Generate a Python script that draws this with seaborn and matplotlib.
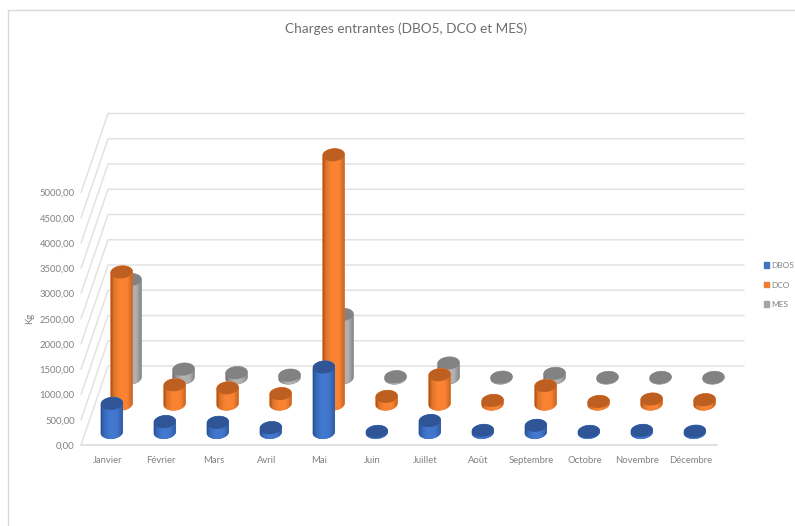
import numpy as np
import pandas as pd
import matplotlib
matplotlib.use("Agg")
import matplotlib.pyplot as plt
import seaborn as sns
from matplotlib.colors import LinearSegmentedColormap
from matplotlib.lines import Line2D
from matplotlib.patches import Patch, Polygon

months = ["Janvier", "Février", "Mars", "Avril", "Mai", "Juin", "Juillet",
          "Août", "Septembre", "Octobre", "Novembre", "Décembre"]
dbo5 = [570, 210, 195, 90, 1290, 15, 230, 35, 135, 15, 35, 20]
dco = [2610, 375, 315, 200, 4930, 145, 575, 65, 360, 45, 93, 80]
mes = [1940, 170, 100, 50, 1250, 20, 290, 10, 85, 5, 5, 5]
y_ticks = [0, 500, 1000, 1500, 2000, 2500, 3000, 3500, 4000, 4500, 5000]

W, H = 795, 526
GRID = "#e2e2e2"
TEXT = "#808080"
# depth of the floor, expressed in months (x) and kg (y)
DEPTH_X = 0.51
DEPTH_Y = 1564
RADIUS_X = 0.205
RADIUS_Y = 125
TILT = 14  # discs lean up to the right, in kg

sns.set_theme(style="white")
plt.rcParams["font.family"] = ["Lato", "DejaVu Sans"]

fig = plt.figure(figsize=(W / 100, H / 100), dpi=100)
# frame of the chart object
fig.add_artist(Line2D([7.5 / W, 7.5 / W, 1], [0, 1 - 9.5 / H, 1 - 9.5 / H], color="#d9d9d9", lw=1.0))

ax = fig.add_axes([81 / W, 1 - 445 / H, 636 / W, 345 / H])
ax.set_xlim(0, 12)
ax.set_ylim(0, 345 / 0.0505)
ax.patch.set_alpha(0)
sns.despine(ax=ax, left=True, bottom=True)

# walls and floor
for t in y_ticks:
    ax.plot([0, DEPTH_X, 12 + DEPTH_X], [t, t + DEPTH_Y, t + DEPTH_Y], color=GRID, lw=1.1, clip_on=False, zorder=1)
ax.plot([0, 12], [0, 0], color=GRID, lw=1.5, clip_on=False, zorder=1)


def disc_points(mid, level, start, stop):
    theta = np.linspace(start, stop, 48)
    return np.column_stack([mid + RADIUS_X * np.cos(theta),
                            level + RADIUS_Y * np.sin(theta) + TILT * np.cos(theta)])


def draw_series(values, name, depth, stops, top_color, z):
    x = np.arange(12) + 0.5 + depth * DEPTH_X
    base = depth * DEPTH_Y
    before = len(ax.patches)
    sns.barplot(x=x, y=values, native_scale=True, width=2 * RADIUS_X, color=stops[2][1], saturation=1,
                bottom=base, linewidth=0, ax=ax, zorder=z, errorbar=None)
    cmap = LinearSegmentedColormap.from_list(name, stops)
    for bar in ax.patches[before:]:
        mid = bar.get_x() + bar.get_width() / 2
        low, high = bar.get_y(), bar.get_y() + bar.get_height()
        outline = np.vstack([disc_points(mid, low, np.pi, 2 * np.pi), disc_points(mid, high, 0, np.pi)])
        shape = Polygon(outline, closed=True, transform=ax.transData, facecolor=stops[2][1],
                        edgecolor=stops[1][1], lw=0.5, zorder=z + 0.1, clip_on=False)
        ax.add_patch(shape)
        im = ax.imshow(np.linspace(0, 1, 64)[None, :], cmap=cmap, aspect="auto", zorder=z + 0.2,
                       extent=(mid - RADIUS_X, mid + RADIUS_X, low - RADIUS_Y - TILT, high + RADIUS_Y + TILT),
                       interpolation="bilinear")
        im.set_clip_path(shape)
        ax.add_patch(Polygon(disc_points(mid, high, 0, 2 * np.pi), closed=True, facecolor=top_color,
                             edgecolor="none", zorder=z + 0.3, clip_on=False))
        bar.set_visible(False)


draw_series(mes, "mes", 0.85, [(0, "#6f6f6f"), (0.12, "#8f8f8f"), (0.4, "#b4b4b4"), (0.75, "#b0b0b0"), (1, "#808080")], "#828282", 2)
draw_series(dco, "dco", 0.52, [(0, "#a9541a"), (0.12, "#dd7229"), (0.4, "#fb8433"), (0.75, "#f98233"), (1, "#c4631f")], "#bd5f20", 3)
draw_series(dbo5, "dbo5", 0.16, [(0, "#2a4f8f"), (0.12, "#3767b5"), (0.4, "#4379d2"), (0.75, "#4075ca"), (1, "#2f5a9f")], "#2f5597", 4)

ax.set_xlim(0, 12)
ax.set_ylim(0, 345 / 0.0505)
ax.set_xticks(np.arange(12) + 0.5)
ax.set_xticklabels(months, fontsize=6.8, color=TEXT)
ax.set_yticks(y_ticks)
ax.set_yticklabels([f"{t:.2f}".replace(".", ",") for t in y_ticks], fontsize=6.8, color=TEXT)
ax.tick_params(axis="both", length=0)
ax.tick_params(axis="x", pad=8)
ax.tick_params(axis="y", pad=4.5)
ax.set_xlabel("")
ax.set_ylabel("Kg", fontsize=6.8, color=TEXT)
ax.yaxis.set_label_coords(-47 / 636, 127 / 345)

fig.text(406 / W, 1 - 29 / H, "Charges entrantes (DBO5, DCO et MES)", ha="center", va="center",
         fontsize=9.8, color="#6e6e6e")

handles = [Patch(color="#4472c4", label="DBO5"), Patch(color="#ed7d31", label="DCO"), Patch(color="#a5a5a5", label="MES")]
fig.legend(handles=handles, loc="center left", bbox_to_anchor=(763.5 / W, 1 - 285 / H), frameon=False, fontsize=6.0,
           labelcolor=TEXT, handlelength=0.65, handleheight=0.65, handletextpad=0.3, labelspacing=1.5,
           borderpad=0, borderaxespad=0)

fig.savefig("out.png", dpi=100)
